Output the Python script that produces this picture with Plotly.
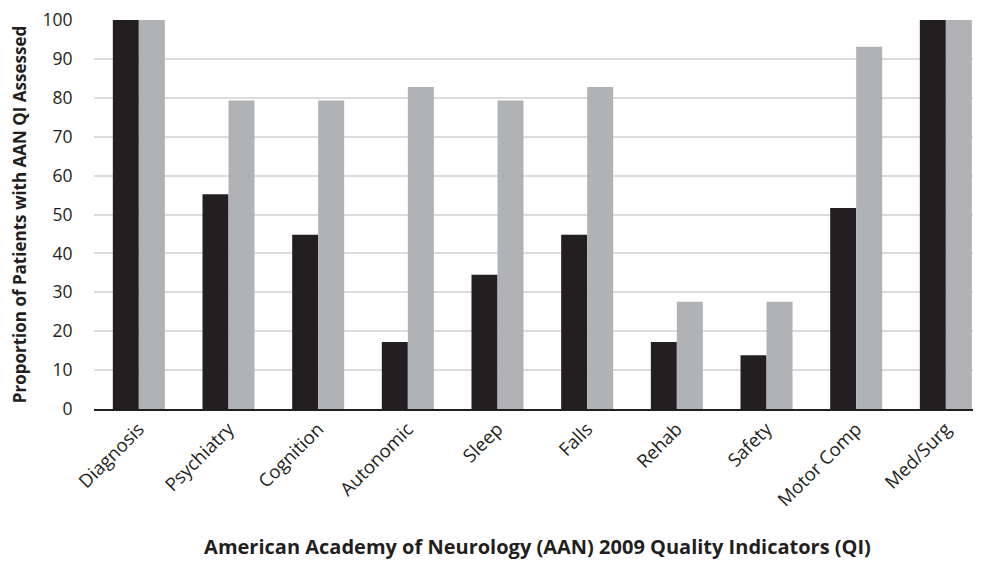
import plotly.graph_objects as go

categories = ["Diagnosis", "Psychiatry", "Cognition", "Autonomic", "Sleep",
              "Falls", "Rehab", "Safety", "Motor Comp", "Med/Surg"]
series_black = [100, 55.2, 44.8, 17.2, 34.5, 44.8, 17.2, 13.8, 51.7, 100]
series_grey = [100, 79.3, 79.3, 82.8, 79.3, 82.8, 27.6, 27.6, 93.1, 100]
y_ticks = [0, 10, 20, 30, 40, 50, 60, 70, 80, 90, 100]

FONT = "Open Sans"

fig = go.Figure()
fig.add_trace(go.Bar(x=list(range(len(categories))), y=series_black, marker_color="#231f20",
                     marker_line_width=0, showlegend=False))
fig.add_trace(go.Bar(x=list(range(len(categories))), y=series_grey, marker_color="#b1b2b6",
                     marker_line_width=0, showlegend=False))

fig.update_layout(
    width=973, height=562,
    margin=dict(l=86, r=0, t=12, b=161),
    paper_bgcolor="white", plot_bgcolor="white",
    barmode="group", bargap=0.42, bargroupgap=0,
    font=dict(family=FONT, color="#231f20", size=17),
    xaxis=dict(
        range=[-0.5, 9.392], automargin=False,
        tickmode="array", tickvals=list(range(len(categories))), ticktext=categories,
        tickangle=-45, showgrid=False, showline=True, linecolor="#231f20", linewidth=2,
        ticks="", tickfont=dict(size=18.5),
        title=dict(text="<b>American Academy of Neurology (AAN) 2009 Quality Indicators (QI)</b>",
                   font=dict(size=20), standoff=30),
    ),
    yaxis=dict(
        range=[0, 100], tickmode="array", tickvals=y_ticks, automargin=False,
        ticklabeloverflow="allow",
        showgrid=True, gridcolor="#dcdcdc", gridwidth=2, zeroline=False,
        showline=False, ticks="outside", ticklen=17, tickcolor="rgba(0,0,0,0)",
        tickfont=dict(size=17.5),
        title=dict(text="<b>Proportion of Patients with AAN QI Assessed</b>",
                   font=dict(size=17), standoff=14),
    ),
)

fig.write_html("out.html")
